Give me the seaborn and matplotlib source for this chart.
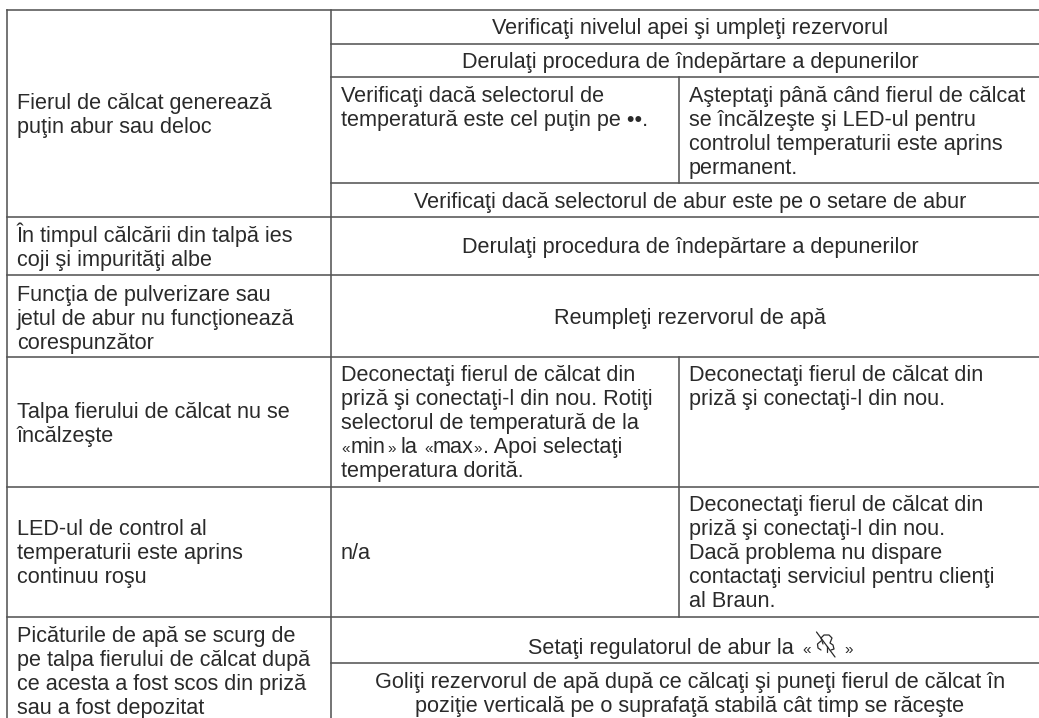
import matplotlib
matplotlib.use("Agg")
import matplotlib.pyplot as plt
import pandas as pd
import seaborn as sns

# ---------- table content ----------
left_cells = [
    ["Fierul de călcat generează", "puţin abur sau deloc"],
    ["În timpul călcării din talpă ies", "coji şi impurităţi albe"],
    ["Funcţia de pulverizare sau", "jetul de abur nu funcţionează", "corespunzător"],
    ["Talpa fierului de călcat nu se", "încălzeşte"],
    ["LED-ul de control al", "temperaturii este aprins", "continuu roşu"],
    ["Picăturile de apă se scurg de", "pe talpa fierului de călcat după", "ce acesta a fost scos din priză", "sau a fost depozitat"],
]
merged_cells = [
    ["Verificaţi nivelul apei şi umpleţi rezervorul"],
    ["Derulaţi procedura de îndepărtare a depunerilor"],
    ["Verificaţi dacă selectorul de abur este pe o setare de abur"],
    ["Derulaţi procedura de îndepărtare a depunerilor"],
    ["Reumpleţi rezervorul de apă"],
    ["Goliţi rezervorul de apă după ce călcaţi şi puneţi fierul de călcat în",
     "poziţie verticală pe o suprafaţă stabilă cât timp se răceşte"],
]
mid_cells = [
    ["Verificaţi dacă selectorul de", "temperatură este cel puţin pe ••."],
    ["Deconectaţi fierul de călcat din", "priză şi conectaţi-l din nou. Rotiţi",
     "selectorul de temperatură de la"],
    ["n/a"],
]
mid_tail = "temperatura dorită."
min_max_words = ["min", "la", "max", ". Apoi selectaţi"]
right_cells = [
    ["Aşteptaţi până când fierul de călcat", "se încălzeşte şi LED-ul pentru",
     "controlul temperaturii este aprins", "permanent."],
    ["Deconectaţi fierul de călcat din", "priză şi conectaţi-l din nou."],
    ["Deconectaţi fierul de călcat din", "priză şi conectaţi-l din nou.",
     "Dacă problema nu dispare", "contactaţi serviciul pentru clienţi", "al Braun."],
]
steam_label = "Setaţi regulatorul de abur la"
quote_open, quote_close = "«", "»"

# ---------- layout (pixels) ----------
W, H = 1039, 718
X_LEFT, X_COL, X_SPLIT, X_RIGHT = 7, 331, 679, 1039
LINE = 24.1
left_first = [109, 242, 301, 418, 535, 642]
merged_first = [34, 68, 208, 253, 324, 688]
mid_first = [102, 381, 559]
right_first = [102, 381, 511]
X_TXT_L, X_TXT_M, X_TXT_R, X_CENTER = 17, 341, 689, 690
hrules = [(X_LEFT, 10), (X_COL, 43.5), (X_COL, 77), (X_COL, 183), (X_LEFT, 217),
          (X_LEFT, 275), (X_LEFT, 357), (X_LEFT, 486.7), (X_LEFT, 616.7), (X_COL, 663.3)]
vrules = [(X_LEFT, 10, H), (X_COL, 10, H), (X_SPLIT, 77, 183), (X_SPLIT, 357, 616.7)]

rows = []
for i, (x0, y) in enumerate(hrules):
    rows += [dict(rule=f"h{i}", x=x0, y=y), dict(rule=f"h{i}", x=X_RIGHT, y=y)]
for i, (x, y0, y1) in enumerate(vrules):
    rows += [dict(rule=f"v{i}", x=x, y=y0), dict(rule=f"v{i}", x=x, y=y1)]
rules = pd.DataFrame(rows)

sns.set_theme(style="white", rc={"axes.facecolor": "white", "figure.facecolor": "white"})
plt.rcParams["font.family"] = ["Liberation Sans", "DejaVu Sans"]
INK, RULE = "#2a2a2a", "#555555"
FS, FS_QUOTE = 15.55, 11

fig = plt.figure(figsize=(W / 100, H / 100), dpi=100)
ax = fig.add_axes([0, 0, 1, 1])
sns.lineplot(data=rules, x="x", y="y", units="rule", estimator=None, sort=False,
             color=RULE, linewidth=1.15, ax=ax, legend=False, solid_capstyle="projecting")
ax.set_xlim(0, W)
ax.set_ylim(H, 0)
ax.axis("off")


def put(cells, firsts, x, ha="left"):
    for lines, y0 in zip(cells, firsts):
        for k, s in enumerate(lines):
            ax.text(x, y0 + k * LINE, s, ha=ha, va="baseline", fontsize=FS, color=INK)


def word(x, y, s, fs=FS):
    ax.text(x, y, s, ha="left", va="baseline", fontsize=fs, color=INK)


put(left_cells, left_first, X_TXT_L)
put(merged_cells, merged_first, X_CENTER, ha="center")
put(mid_cells, mid_first, X_TXT_M)
put(right_cells, right_first, X_TXT_R)

# «min» la «max» line: the quotes are set small
y_mm = mid_first[1] + 3 * LINE
word(341, y_mm, quote_open, FS_QUOTE)
word(351, y_mm, min_max_words[0])
word(387, y_mm, quote_close, FS_QUOTE)
word(401, y_mm, min_max_words[1])
word(424, y_mm, quote_open, FS_QUOTE)
word(433, y_mm, min_max_words[2])
word(473, y_mm, quote_close, FS_QUOTE)
word(483, y_mm, min_max_words[3])
word(341, y_mm + LINE, mid_tail)

# steam-setting row with its small quotes and crossed-out steam symbol
word(528, 654, steam_label)
word(802, 654, quote_open, FS_QUOTE)
word(844, 654, quote_close, FS_QUOTE)
ic = dict(color=INK, lw=0.9, solid_capstyle="round")
ax.plot([816.5, 835], [632, 657], **ic)
ax.plot([821, 817.5, 818, 821], [641, 644, 648, 650], **ic)
ax.plot([823, 821, 824, 829, 832, 830, 833, 834, 831],
        [644, 638, 635, 635, 638, 643, 645, 649, 650], **ic)
ax.plot([826.5, 826.5], [646, 652], **ic)

fig.savefig("out.png", dpi=100)
